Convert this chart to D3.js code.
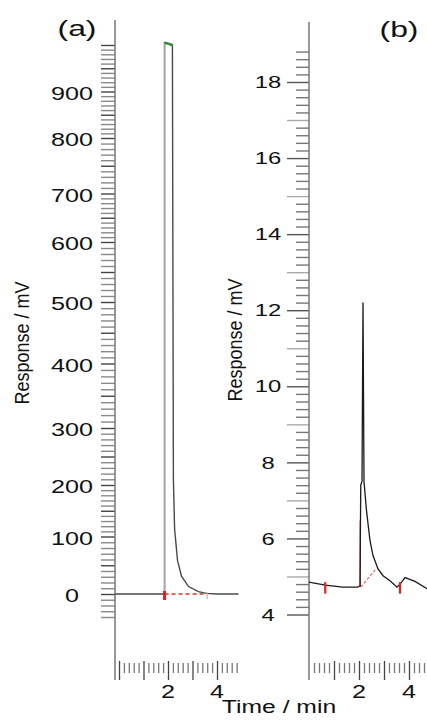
<!DOCTYPE html>
<html>
<head>
<meta charset="utf-8">
<script src="https://cdn.jsdelivr.net/npm/d3@7"></script>
<style>
  body { margin: 0; background: #fff; }
  svg { display: block; }
  text { font-family: "Liberation Sans", Arial, sans-serif; fill: #111; }
</style>
</head>
<body>
<script>
// panel (a) trace, time in min, response in mV
const timeA = [-0.16, 1.86, 1.86, 2.18, 2.22, 2.27, 2.39, 2.55, 2.84, 3.24, 3.57, 4.0, 4.88];
const respA = [0, 0, 1005, 1000, 210, 114, 58, 31, 13, 4, 1, 0, 0];
const yLabelsA = [0, 100, 200, 300, 400, 500, 600, 700, 800, 900];
const xLabelsA = [2, 4];

// panel (b) trace
const timeB = [0, 0.65, 1.35, 1.95, 2.04, 2.07, 2.12, 2.16, 2.2, 2.3, 2.44, 2.56, 2.76, 2.96, 3.24, 3.52, 3.62, 3.84, 4.24, 4.72];
const respB = [4.85, 4.77, 4.72, 4.72, 4.75, 7.4, 7.5, 12.2, 7.5, 6.73, 5.94, 5.55, 5.2, 5.02, 4.89, 4.72, 4.78, 4.97, 4.87, 4.68];
const yLabelsB = [4, 6, 8, 10, 12, 14, 16, 18];
const xLabelsB = [2, 4];

// integration marks (red)
const baseA = [[1.86, 0], [3.57, 0]];
const baseB = [[2.07, 4.72], [2.64, 5.17]];
const dropB = [[2.05, 4.72], [2.05, 6.47]];
const marksB = [0.65, 3.64];

const W = 427, H = 720;
const svg = d3.select("body").append("svg").attr("width", W).attr("height", H);

// scales (panel a scan is not quite linear, so piecewise)
const yA = d3.scaleLinear()
  .domain([0, 100, 200, 300, 400, 500, 600, 700, 800, 900, 1000])
  .range([594, 536.5, 485, 428, 363.5, 302, 242, 193.5, 138, 91.5, 45]);
const xA = d3.scaleLinear().domain([0, 4]).range([119, 217]);
const yB = d3.scaleLinear().domain([4, 18]).range([614.5, 82]);
const xB = d3.scaleLinear().domain([0, 4]).range([309, 409]);

function stretchText(g, x, y, size, str, sx) {
  g.append("text")
    .attr("transform", `translate(${x},${y}) scale(${sx},1)`)
    .attr("text-anchor", "middle")
    .attr("dominant-baseline", "central")
    .style("font-size", size + "px")
    .text(str);
}

// ---------- panel (a) ----------
const gA = svg.append("g");

// y ticks every 10 mV
const yTicksA = d3.range(-40, 1001, 10);
gA.append("g")
  .attr("transform", "translate(115,0)")
  .call(d3.axisLeft(yA).tickValues(yTicksA).tickSize(14).tickFormat(""))
  .call(g => g.select(".domain").remove())
  .call(g => g.selectAll(".tick line")
    .attr("stroke", d => d % 50 === 0 ? "#444" : "#8a8a8a")
    .attr("stroke-width", 1.4));

gA.append("line").attr("x1", 115).attr("x2", 115).attr("y1", 20).attr("y2", 680)
  .attr("stroke", "#777").attr("stroke-width", 1.5);

yLabelsA.forEach(v => stretchText(gA, 72, yA(v) + 2, 18, v, 1.4));

// x ticks
const xTicksA = d3.range(0, 25).map(i => i / 5);
gA.append("g")
  .attr("transform", "translate(0,663)")
  .call(d3.axisBottom(xA).tickValues(xTicksA).tickSize(10).tickFormat(""))
  .call(g => g.select(".domain").remove())
  .call(g => g.selectAll(".tick line")
    .attr("stroke", d => Math.abs(d - Math.round(d)) < 1e-6 ? "#444" : "#777")
    .attr("stroke-width", 1.3)
    .attr("y1", d => Math.abs(d - Math.round(d)) < 1e-6 ? -2 : 0)
    .attr("y2", d => Math.abs(d - Math.round(d)) < 1e-6 ? 17 : 10));
xLabelsA.forEach(v => stretchText(gA, xA(v), 691.5, 18, v, 1.4));

// trace
const lineA = d3.line().x(d => xA(d[0])).y(d => yA(d[1]));
const ptsA = timeA.map((t, i) => [t, respA[i]]);
gA.append("path").datum(ptsA).attr("d", lineA)
  .attr("fill", "none").attr("stroke", "#4a4a4a").attr("stroke-width", 1.4);
gA.append("path").datum(ptsA.slice(1, 3)).attr("d", lineA)
  .attr("fill", "none").attr("stroke", "#a8a8a8").attr("stroke-width", 1.6);
gA.append("path").datum(ptsA.slice(2, 4)).attr("d", lineA)
  .attr("fill", "none").attr("stroke", "#2e8b2e").attr("stroke-width", 2.5);
gA.append("path").datum(baseA).attr("d", lineA)
  .attr("fill", "none").attr("stroke", "#e0301e").attr("stroke-width", 1.3)
  .attr("stroke-dasharray", "4,3");
gA.append("line").attr("x1", xA(1.86)).attr("x2", xA(1.86))
  .attr("y1", yA(0) - 3).attr("y2", yA(0) + 6)
  .attr("stroke", "#e0201a").attr("stroke-width", 3);
gA.append("line").attr("x1", xA(3.6)).attr("x2", xA(3.6))
  .attr("y1", yA(0) - 2).attr("y2", yA(0) + 5)
  .attr("stroke", "#f0a0a8").attr("stroke-width", 1.2);

stretchText(gA, 77, 28, 22, "(a)", 1.45);

// ---------- panel (b) ----------
const gB = svg.append("g");

const yTicksB = d3.range(20, 95).map(i => i / 5);
gB.append("g")
  .attr("transform", "translate(309,0)")
  .call(d3.axisLeft(yB).tickValues(yTicksB).tickSize(13).tickFormat(""))
  .call(g => g.select(".domain").remove())
  .call(g => g.selectAll(".tick line")
    .attr("x2", d => Math.abs(d - Math.round(d)) < 1e-6 ? -22 : -13)
    .attr("stroke", d => {
      if (Math.abs(d - Math.round(d)) < 1e-6) return Math.round(d) % 2 === 0 ? "#555" : "#aaa";
      return "#777";
    })
    .attr("stroke-width", 1.4));

gB.append("line").attr("x1", 309).attr("x2", 309).attr("y1", 22).attr("y2", 680)
  .attr("stroke", "#777").attr("stroke-width", 1.5);

yLabelsB.forEach(v => stretchText(gB, 268, yB(v), 17, v, 1.4));

const xTicksB = d3.range(1, 24).map(i => i / 5);
gB.append("g")
  .attr("transform", "translate(0,663)")
  .call(d3.axisBottom(xB).tickValues(xTicksB).tickSize(10).tickFormat(""))
  .call(g => g.select(".domain").remove())
  .call(g => g.selectAll(".tick line")
    .attr("stroke", d => Math.abs(d - Math.round(d)) < 1e-6 ? "#444" : "#777")
    .attr("stroke-width", 1.3)
    .attr("y1", d => Math.abs(d - Math.round(d)) < 1e-6 ? -2 : 0)
    .attr("y2", d => Math.abs(d - Math.round(d)) < 1e-6 ? 17 : 10));
xLabelsB.forEach(v => stretchText(gB, xB(v), 691.5, 18, v, 1.4));

const lineB = d3.line().x(d => xB(d[0])).y(d => yB(d[1]));
const ptsB = timeB.map((t, i) => [t, respB[i]]);
gB.append("path").datum(baseB).attr("d", lineB)
  .attr("fill", "none").attr("stroke", "#e86a5a").attr("stroke-width", 1.2)
  .attr("stroke-dasharray", "3,2");
gB.append("path").datum(dropB).attr("d", lineB)
  .attr("fill", "none").attr("stroke", "#d8281c").attr("stroke-width", 1.2);
gB.append("path").datum(ptsB).attr("d", lineB)
  .attr("fill", "none").attr("stroke", "#1a1a1a").attr("stroke-width", 1.3);
marksB.forEach(t => {
  gB.append("line").attr("x1", xB(t)).attr("x2", xB(t))
    .attr("y1", yB(4.85)).attr("y2", yB(4.55))
    .attr("stroke", "#e0201a").attr("stroke-width", 2.2);
});

stretchText(gB, 399, 29, 22, "(b)", 1.45);

// axis titles
svg.append("text")
  .attr("transform", "translate(22,343) scale(1.15,1) rotate(-90)")
  .attr("text-anchor", "middle").attr("dominant-baseline", "central")
  .style("font-size", "18px").text("Response / mV");
svg.append("text")
  .attr("transform", "translate(235,340) scale(1.15,1) rotate(-90)")
  .attr("text-anchor", "middle").attr("dominant-baseline", "central")
  .style("font-size", "18px").text("Response / mV");
svg.append("text")
  .attr("transform", "translate(279,707) scale(1.3,1)")
  .attr("text-anchor", "middle").attr("dominant-baseline", "central")
  .style("font-size", "19px").text("Time / min");
</script>
</body>
</html>
